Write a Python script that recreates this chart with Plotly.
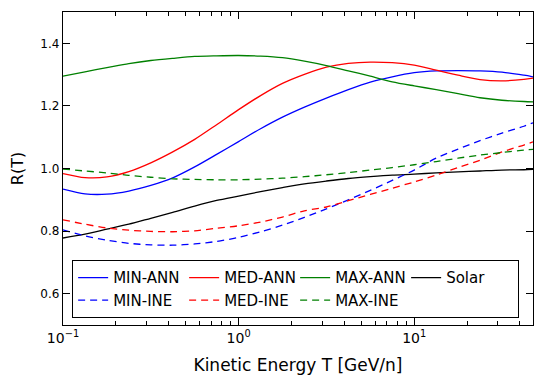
import plotly.graph_objects as go

T = [0.1, 0.1334, 0.1778, 0.2371, 0.3162, 0.4217, 0.5623, 0.7499, 1.0, 1.334, 1.778, 2.371,
     3.162, 4.217, 5.623, 7.499, 10.0, 13.34, 17.78, 23.71, 31.62, 42.17, 47.5]

min_ann = [0.934, 0.919, 0.918, 0.928, 0.946, 0.970, 1.005, 1.045, 1.086, 1.127, 1.164, 1.196,
           1.225, 1.252, 1.276, 1.293, 1.306, 1.312, 1.313, 1.312, 1.308, 1.298, 1.293]
med_ann = [0.984, 0.971, 0.973, 0.990, 1.018, 1.053, 1.093, 1.140, 1.188, 1.233, 1.272, 1.301,
           1.324, 1.336, 1.340, 1.338, 1.330, 1.314, 1.298, 1.284, 1.280, 1.285, 1.289]
max_ann = [1.295, 1.309, 1.322, 1.335, 1.345, 1.352, 1.358, 1.360, 1.361, 1.359, 1.354, 1.343,
           1.329, 1.312, 1.295, 1.277, 1.264, 1.252, 1.239, 1.226, 1.218, 1.214, 1.213]
solar   = [0.778, 0.790, 0.806, 0.822, 0.841, 0.860, 0.880, 0.898, 0.912, 0.926, 0.939, 0.951,
           0.960, 0.968, 0.974, 0.979, 0.982, 0.986, 0.989, 0.992, 0.995, 0.996, 0.997]
min_ine = [0.804, 0.785, 0.771, 0.761, 0.756, 0.755, 0.759, 0.767, 0.780, 0.798, 0.819, 0.844,
           0.871, 0.900, 0.930, 0.962, 0.995, 1.033, 1.062, 1.089, 1.113, 1.135, 1.146]
med_ine = [0.836, 0.822, 0.810, 0.803, 0.799, 0.798, 0.801, 0.809, 0.817, 0.829, 0.845, 0.865,
           0.877, 0.897, 0.917, 0.937, 0.957, 0.979, 1.003, 1.026, 1.053, 1.075, 1.085]
max_ine = [0.998, 0.992, 0.986, 0.978, 0.972, 0.967, 0.965, 0.964, 0.964, 0.966, 0.969, 0.974,
           0.980, 0.987, 0.995, 1.003, 1.012, 1.022, 1.033, 1.043, 1.051, 1.059, 1.061]

x_ticks = [0.1, 1, 10]
x_ticktext = ["10<sup>−1</sup>", "10<sup>0</sup>", "10<sup>1</sup>"]
minor_vals = [m * 10 ** e for e in (-1, 0, 1) for m in range(2, 10)]

series = [
    ("MIN-ANN", min_ann, "#0000ff", "solid"),
    ("MED-ANN", med_ann, "#ff0000", "solid"),
    ("MAX-ANN", max_ann, "#008000", "solid"),
    ("Solar", solar, "#000000", "solid"),
    ("MIN-INE", min_ine, "#0000ff", "dash"),
    ("MED-INE", med_ine, "#ff0000", "dash"),
    ("MAX-INE", max_ine, "#008000", "dash"),
]

fig = go.Figure()
for name, ys, col, dash in series:
    fig.add_trace(go.Scatter(
        x=T, y=ys, name=name, mode="lines",
        line=dict(color=col, width=1.3, dash="solid" if dash == "solid" else "7px,5px",
                  shape="spline", smoothing=0.8),
    ))

font = "DejaVu Sans, sans-serif"
fig.update_layout(
    width=534, height=377,
    margin=dict(l=63, r=1, t=12, b=52),
    paper_bgcolor="white", plot_bgcolor="white",
    font=dict(family=font, color="black", size=12),
    showlegend=True,
    legend=dict(
        orientation="h", x=0.019, y=0.022, xanchor="left", yanchor="bottom",
        bgcolor="white", bordercolor="black", borderwidth=1.2,
        font=dict(size=15, family=font), entrywidth=66, entrywidthmode="pixels",
        tracegroupgap=0, itemwidth=30,
    ),
    xaxis=dict(
        type="log", range=[-1, 1.6767],
        showgrid=False, zeroline=False,
        showline=True, linecolor="black", linewidth=1.3, mirror="allticks",
        ticks="inside", ticklen=7, tickwidth=1.2, tickcolor="black",
        tickmode="array", tickvals=x_ticks, ticktext=x_ticktext,
        tickfont=dict(size=14),
        minor=dict(tickmode="array", tickvals=minor_vals, ticks="inside",
                   ticklen=4, tickwidth=1.2, tickcolor="black"),
        title=dict(text="Kinetic Energy T [GeV/n]", font=dict(size=17), standoff=14),
    ),
    yaxis=dict(
        range=[0.5, 1.5],
        showgrid=False, zeroline=False,
        showline=True, linecolor="black", linewidth=1.3, mirror="allticks",
        ticks="inside", ticklen=7, tickwidth=1.2, tickcolor="black",
        tick0=0.6, dtick=0.2, tickformat=".1f",
        tickfont=dict(size=12),
        title=dict(text="R(T)", font=dict(size=16), standoff=12),
    ),
)

fig.write_html("out.html")
